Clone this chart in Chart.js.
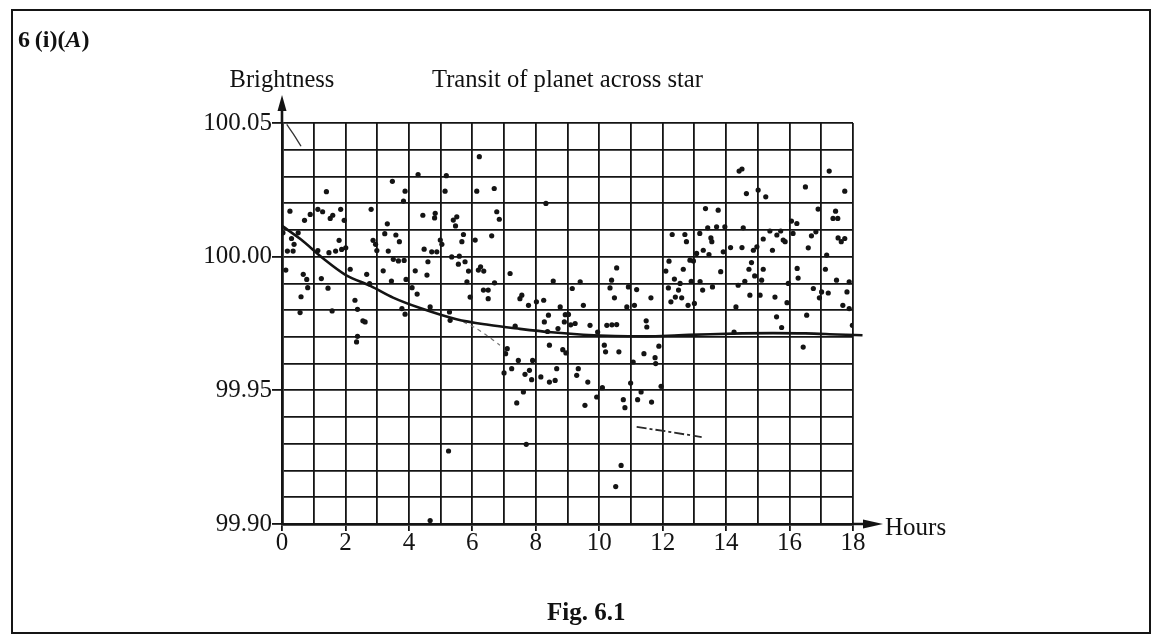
<!DOCTYPE html>
<html>
<head>
<meta charset="utf-8">
<script src="https://cdn.jsdelivr.net/npm/chart.js@4.4.0/dist/chart.umd.min.js"></script>
<style>
  html, body { margin: 0; padding: 0; background: #fff; }
  #wrap { position: relative; width: 1156px; height: 635px; overflow: hidden;
          font-family: "Liberation Serif", "DejaVu Serif", serif; color: #111; }
  #frame { position: absolute; left: 11px; top: 9px; width: 1140px; height: 625px;
           border: 2px solid #151515; box-sizing: border-box; }
  canvas { position: absolute; left: 0; top: 0; }
  .t { position: absolute; white-space: nowrap; line-height: 1; }
</style>
</head>
<body>
<div id="wrap">
  <div id="frame"></div>
  <canvas id="c" width="1156" height="635"></canvas>
  <div class="t" style="left:18px; top:27px; font-size:24px; font-weight:bold;">6&#8201;(i)(<i>A</i>)</div>
  <div class="t" style="left:282px; top:67px; font-size:24.5px; transform:translateX(-50%);">Brightness</div>
  <div class="t" style="left:432px; top:67px; font-size:24.6px;">Transit of planet across star</div>
  <div class="t" style="left:885px; top:514px; font-size:25px;">Hours</div>
  <div class="t" style="left:547px; top:599px; font-size:25px; font-weight:bold;">Fig. 6.1</div>
</div>
<script>
// Measured brightness readings (hours since start, relative brightness)
const hours = [
  4.29, 1.40, 3.48, 3.88, 3.83, 0.25, 0.89, 0.71, 1.13, 1.28, 1.52, 1.60, 1.85, 1.96, 2.81, 3.32,
  0.03, 0.30, 0.51, 0.38, 0.17, 0.35, 1.13, 1.48, 1.80, 1.69, 1.88, 2.01, 2.87, 2.95, 2.99, 3.24,
  3.35, 3.59, 3.70, 3.51, 3.67, 3.85, 4.20, 0.12, 0.67, 0.78, 1.24, 1.45, 0.81, 0.60, 2.15, 2.67,
  3.19, 3.45, 2.76, 3.91, 4.10, 4.26, 0.57, 1.58, 2.30, 2.38, 2.55, 3.78, 3.88, 2.62, 2.38, 2.35,
  6.22, 5.18, 5.14, 6.14, 6.69, 8.32, 4.44, 4.83, 4.81, 5.51, 5.40, 5.47, 6.77, 6.85, 4.99, 5.04,
  5.67, 5.72, 6.09, 6.61, 4.48, 4.72, 4.60, 4.88, 5.35, 5.59, 5.77, 5.56, 5.88, 6.19, 6.26, 6.36,
  7.19, 8.55, 4.57, 5.83, 6.35, 6.50, 6.70, 6.50, 5.93, 7.56, 7.50, 7.77, 8.02, 8.25, 8.77, 8.40,
  8.93, 4.67, 5.28, 5.30, 8.27,
  13.35, 13.42, 12.30, 12.70, 12.75, 13.17, 13.52, 13.55, 13.07, 13.28, 13.46, 12.86, 12.97, 12.20,
  10.55, 12.10, 12.65, 12.37, 12.55, 12.90, 13.18, 10.39, 9.40, 9.15, 10.34, 10.92, 11.18, 12.18,
  12.50, 13.26, 10.48, 11.63, 12.40, 12.60, 12.26, 9.50, 10.87, 11.11, 12.80, 13.00, 9.03,
  9.24, 9.10, 9.71, 9.95, 10.24, 10.40, 10.55, 11.50, 11.48, 10.16, 10.20, 10.62, 11.41, 11.76,
  11.78, 11.88, 11.07, 9.34, 9.29, 9.64, 10.10, 10.99, 11.32, 11.95, 9.92, 9.55, 10.76, 10.81,
  11.21, 11.65, 10.69, 10.52,
  7.35, 8.70, 8.90, 8.37, 8.43, 8.85, 8.95, 7.10, 7.05, 7.45, 7.90, 7.24, 7.00, 7.66, 7.80, 7.87,
  8.16, 8.43, 8.61, 8.66, 7.61, 7.40, 7.70, 5.25, 4.67,
  14.41, 14.50, 17.25, 16.50, 14.64, 15.01, 15.25, 17.74, 13.75, 16.90, 17.45, 17.37, 17.52, 16.06,
  16.23, 13.70, 13.96, 14.54, 15.38, 15.72, 15.60, 15.80, 15.17, 15.86, 16.11, 16.83, 16.69, 17.53,
  17.63, 17.74, 14.14, 14.50, 14.86, 14.97, 15.46, 16.59, 17.17, 13.91, 14.80, 14.72, 15.17, 16.24,
  17.13, 13.83, 14.59, 14.90, 15.12, 16.27, 17.48, 17.88, 13.57, 14.38, 15.96, 16.75, 17.01, 17.22,
  17.81, 14.75, 15.07, 15.54, 16.94, 15.92, 14.31, 17.68, 15.59, 16.54, 17.88,
  14.25, 15.75, 17.98, 16.43
];
const brightness = [
  100.0307, 100.0243, 100.0282, 100.0245, 100.0208, 100.0170, 100.0158, 100.0136, 100.0177, 100.0168,
  100.0143, 100.0155, 100.0177, 100.0136, 100.0177, 100.0123,
  100.0089, 100.0068, 100.0089, 100.0046, 100.0021, 100.0021, 100.0023, 100.0015, 100.0061, 100.0021,
  100.0027, 100.0033, 100.0061, 100.0046, 100.0023, 100.0086,
  100.0021, 100.0081, 100.0056, 99.9990, 99.9984, 99.9986, 99.9947, 99.9950, 99.9934, 99.9915,
  99.9918, 99.9882, 99.9884, 99.9850, 99.9953, 99.9934,
  99.9947, 99.9909, 99.9899, 99.9915, 99.9884, 99.9860, 99.9791, 99.9797, 99.9837, 99.9803,
  99.9760, 99.9806, 99.9785, 99.9756, 99.9702, 99.9681,
  100.0374, 100.0303, 100.0245, 100.0245, 100.0255, 100.0199, 100.0155, 100.0162, 100.0145, 100.0149,
  100.0137, 100.0115, 100.0168, 100.0140, 100.0062, 100.0046,
  100.0056, 100.0083, 100.0062, 100.0078, 100.0028, 100.0018, 99.9981, 100.0018, 99.9999, 100.0002,
  99.9981, 99.9972, 99.9946, 99.9950, 99.9962, 99.9946,
  99.9937, 99.9909, 99.9931, 99.9906, 99.9875, 99.9875, 99.9902, 99.9843, 99.9849, 99.9856,
  99.9843, 99.9818, 99.9831, 99.9837, 99.9812, 99.9781,
  99.9783, 99.9812, 99.9793, 99.9762, 99.9756,
  100.0180, 100.0108, 100.0083, 100.0083, 100.0056, 100.0087, 100.0070, 100.0056, 100.0012, 100.0024,
  100.0008, 99.9987, 99.9984, 99.9983,
  99.9958, 99.9946, 99.9953, 99.9916, 99.9900, 99.9908, 99.9907, 99.9912, 99.9906, 99.9881,
  99.9883, 99.9887, 99.9877, 99.9883,
  99.9875, 99.9875, 99.9846, 99.9846, 99.9849, 99.9846, 99.9831, 99.9818, 99.9812, 99.9818,
  99.9818, 99.9825, 99.9784,
  99.9750, 99.9745, 99.9743, 99.9718, 99.9743, 99.9745, 99.9746, 99.9737, 99.9760, 99.9669,
  99.9644, 99.9644, 99.9637, 99.9622,
  99.9600, 99.9665, 99.9606, 99.9581, 99.9556, 99.9531, 99.9510, 99.9527, 99.9494, 99.9515,
  99.9475, 99.9444, 99.9465, 99.9435,
  99.9465, 99.9456, 99.9219, 99.9140,
  99.9740, 99.9731, 99.9756, 99.9720, 99.9669, 99.9652, 99.9640, 99.9656, 99.9637, 99.9612,
  99.9612, 99.9581, 99.9565, 99.9560, 99.9575, 99.9540,
  99.9550, 99.9531, 99.9537, 99.9581, 99.9494, 99.9453, 99.9298, 99.9273, 99.9013,
  100.0320, 100.0328, 100.0320, 100.0261, 100.0236, 100.0249, 100.0224, 100.0245, 100.0174, 100.0178,
  100.0170, 100.0143, 100.0143, 100.0133,
  100.0124, 100.0112, 100.0112, 100.0108, 100.0096, 100.0096, 100.0081, 100.0062, 100.0066, 100.0056,
  100.0087, 100.0093, 100.0078, 100.0070,
  100.0056, 100.0068, 100.0034, 100.0034, 100.0024, 100.0037, 100.0024, 100.0033, 100.0006, 100.0018,
  99.9978, 99.9953, 99.9953, 99.9956,
  99.9953, 99.9944, 99.9908, 99.9928, 99.9912, 99.9920, 99.9912, 99.9906, 99.9887, 99.9893,
  99.9900, 99.9881, 99.9868, 99.9864,
  99.9868, 99.9856, 99.9856, 99.9849, 99.9846, 99.9828, 99.9812, 99.9818, 99.9775, 99.9781, 99.9806,
  99.9718, 99.9735, 99.9743, 99.9662
];

// Hand-drawn trend curve through the readings
const fitHours      = [0, 0.6, 1.3, 2, 2.8, 3.5, 4.4, 5.5, 6.5, 7.5, 8.5, 9.5, 10.5, 11.5, 12.5, 13.5, 14.5, 15.5, 16.5, 17.5, 18.3];
const fitBrightness = [100.0115, 100.0064, 99.9993, 99.9932, 99.9890, 99.9847, 99.9806, 99.9766, 99.9745, 99.9730,
                       99.9717, 99.9708, 99.9703, 99.9702, 99.9706, 99.9710, 99.9713, 99.9714, 99.9713, 99.9709, 99.9706];

// Loose pencil strokes on the grid
const strokeTopHours = [0.15, 0.35, 0.6];
const strokeTopBrightness = [100.0495, 100.0460, 100.0413];
const strokeMidHours = [5.72, 6.1, 6.45, 6.87];
const strokeMidBrightness = [99.9756, 99.9733, 99.9706, 99.9669];
const strokeLowHours = [11.18, 12.2, 13.23];
const strokeLowBrightness = [99.9363, 99.9345, 99.9325];

// Axis ranges, grid steps and labelled ticks
const xMin = 0, xMax = 18, xStep = 1;
const yMin = 99.90, yMax = 100.05, yStep = 0.01;
const xTickLabels = [0, 2, 4, 6, 8, 10, 12, 14, 16, 18];
const yTickLabels = ['99.90', '99.95', '100.00', '100.05'];

const pairs = (xs, ys) => xs.map((x, i) => ({ x: x, y: ys[i] }));
const ink = '#141414';

const gridTicks = (min, max, step) => {
  const n = Math.round((max - min) / step);
  const out = [];
  for (let i = 0; i <= n; i++) out.push({ value: +(min + i * step).toFixed(2) });
  return out;
};
const xLabelled = v => xTickLabels.includes(Math.round(v));
const yLabelled = v => yTickLabels.includes(v.toFixed(2));

// Axis arrows beyond the plotting grid
const axisArrows = {
  id: 'axisArrows',
  afterDraw(chart) {
    const { ctx, chartArea: a } = chart;
    ctx.save();
    ctx.strokeStyle = ink;
    ctx.fillStyle = ink;
    ctx.lineWidth = 2.6;
    ctx.beginPath();
    ctx.moveTo(a.left, a.top);
    ctx.lineTo(a.left, a.top - 14);
    ctx.moveTo(a.right, a.bottom);
    ctx.lineTo(a.right + 12, a.bottom);
    ctx.stroke();
    ctx.beginPath();
    ctx.moveTo(a.left, a.top - 28);
    ctx.lineTo(a.left - 4.5, a.top - 12);
    ctx.lineTo(a.left + 4.5, a.top - 12);
    ctx.closePath();
    ctx.fill();
    ctx.beginPath();
    ctx.moveTo(a.right + 30, a.bottom);
    ctx.lineTo(a.right + 10, a.bottom - 4.5);
    ctx.lineTo(a.right + 10, a.bottom + 4.5);
    ctx.closePath();
    ctx.fill();
    ctx.restore();
  }
};

new Chart(document.getElementById('c'), {
  data: {
    datasets: [
      {
        type: 'scatter',
        data: pairs(hours, brightness),
        pointRadius: 2.6,
        pointBackgroundColor: ink,
        pointBorderWidth: 0,
        order: 1
      },
      {
        type: 'line',
        data: pairs(fitHours, fitBrightness),
        borderColor: ink,
        borderWidth: 2.6,
        pointRadius: 0,
        fill: false,
        cubicInterpolationMode: 'monotone',
        clip: false,
        order: 0
      },
      {
        type: 'line',
        data: pairs(strokeTopHours, strokeTopBrightness),
        borderColor: '#333',
        borderWidth: 1.3,
        pointRadius: 0,
        tension: 0.4,
        order: 2
      },
      {
        type: 'line',
        data: pairs(strokeMidHours, strokeMidBrightness),
        borderColor: '#777',
        borderWidth: 1.2,
        borderDash: [4, 4],
        pointRadius: 0,
        tension: 0.3,
        order: 2
      },
      {
        type: 'line',
        data: pairs(strokeLowHours, strokeLowBrightness),
        borderColor: '#2a2a2a',
        borderWidth: 1.8,
        borderDash: [10, 3, 3, 3],
        pointRadius: 0,
        order: 2
      }
    ]
  },
  options: {
    responsive: false,
    animation: false,
    events: [],
    layout: { padding: { left: 0, top: 123, right: 303, bottom: 0 } },
    plugins: { legend: { display: false }, tooltip: { enabled: false } },
    scales: {
      x: {
        type: 'linear',
        min: xMin, max: xMax,
        afterBuildTicks: s => { s.ticks = gridTicks(xMin, xMax, xStep); },
        afterFit: s => { s.height = 111; },
        grid: {
          color: ink,
          lineWidth: 1.8,
          tickLength: 7,
          tickWidth: 1.8,
          tickColor: c => (c.tick && xLabelled(c.tick.value)) ? ink : 'rgba(0,0,0,0)'
        },
        border: { display: true, color: ink, width: 2.8 },
        ticks: {
          autoSkip: false,
          maxRotation: 0,
          padding: 0,
          color: ink,
          font: { family: 'Liberation Serif', size: 25, lineHeight: 1 },
          callback: v => xLabelled(v) ? String(Math.round(v)) : ''
        }
      },
      y: {
        type: 'linear',
        min: yMin, max: yMax,
        afterBuildTicks: s => { s.ticks = gridTicks(yMin, yMax, yStep); },
        afterFit: s => { s.width = 282; },
        grid: {
          color: ink,
          lineWidth: 1.8,
          tickLength: 10,
          tickWidth: 1.8,
          tickColor: c => (c.tick && yLabelled(c.tick.value)) ? ink : 'rgba(0,0,0,0)'
        },
        border: { display: true, color: ink, width: 2.8 },
        ticks: {
          autoSkip: false,
          padding: 0,
          color: ink,
          font: { family: 'Liberation Serif', size: 25, lineHeight: 1 },
          callback: v => yLabelled(v) ? v.toFixed(2) : ''
        }
      }
    }
  },
  plugins: [axisArrows]
});
</script>
</body>
</html>
